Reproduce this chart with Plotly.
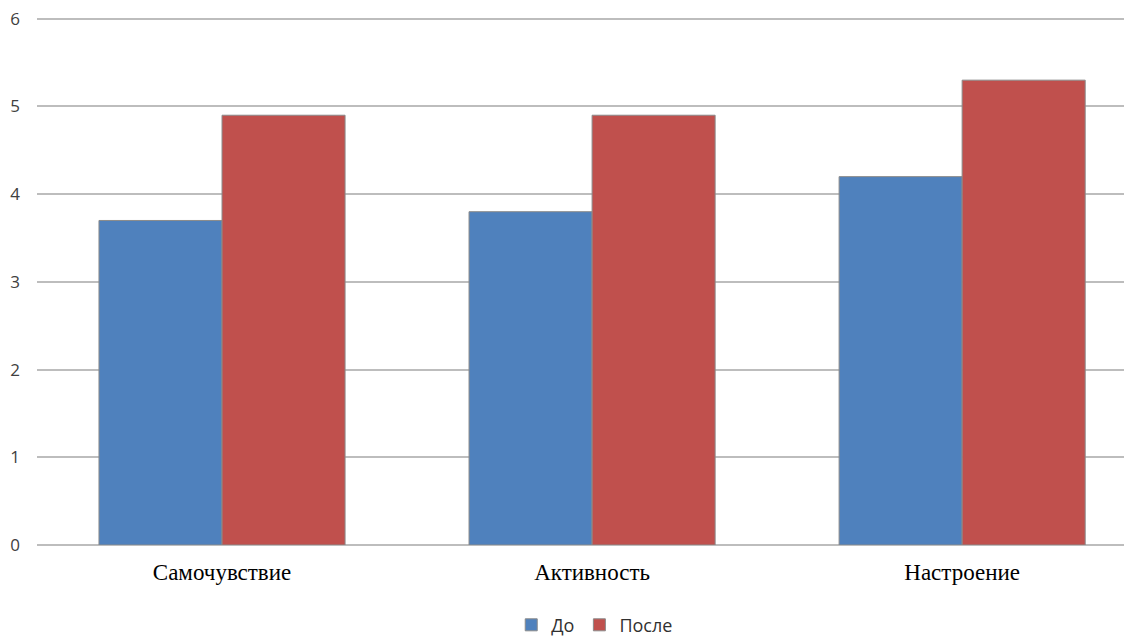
import plotly.graph_objects as go

categories = ["Самочувствие", "Активность", "Настроение"]
before_vals = [3.7, 3.8, 4.2]
after_vals = [4.9, 4.9, 5.3]
series_names = ["До", "После"]
y_ticks = [0, 1, 2, 3, 4, 5, 6]

fig = go.Figure()
fig.add_trace(go.Bar(x=categories, y=before_vals, name=series_names[0],
                     marker=dict(color="#4F81BD", line=dict(color="#8A8A8A", width=1))))
fig.add_trace(go.Bar(x=categories, y=after_vals, name=series_names[1],
                     marker=dict(color="#C0504D", line=dict(color="#8A8A8A", width=1))))

# page body adds an 8px offset, so the figure is 8px smaller and shifted
fig.update_layout(
    width=1124, height=631,
    margin=dict(l=29, r=0, t=9, b=94),
    plot_bgcolor="white", paper_bgcolor="white",
    barmode="group", bargap=0.335, bargroupgap=0,
    showlegend=True,
    legend=dict(orientation="h", xref="container", yref="container",
                x=0.522, xanchor="center", y=0.022, yanchor="middle",
                font=dict(family="Open Sans", size=18, color="#303030"),
                itemwidth=30, traceorder="normal"),
    xaxis=dict(range=[-0.5, 2.459], showgrid=False, showline=False,
               tickfont=dict(family="Liberation Serif", size=23, color="#000000"),
               ticks="", ticklabelstandoff=11, fixedrange=True),
    yaxis=dict(range=[0, 6.02], tickvals=y_ticks, showgrid=True,
               gridcolor="#BDBDBD", gridwidth=2,
               zeroline=True, zerolinecolor="#BDBDBD", zerolinewidth=2,
               showline=False, ticks="", ticklabeloverflow="allow",
               tickfont=dict(family="Open Sans", size=17, color="#404040"),
               ticklabelstandoff=16),
)

fig.write_html("out.html")
